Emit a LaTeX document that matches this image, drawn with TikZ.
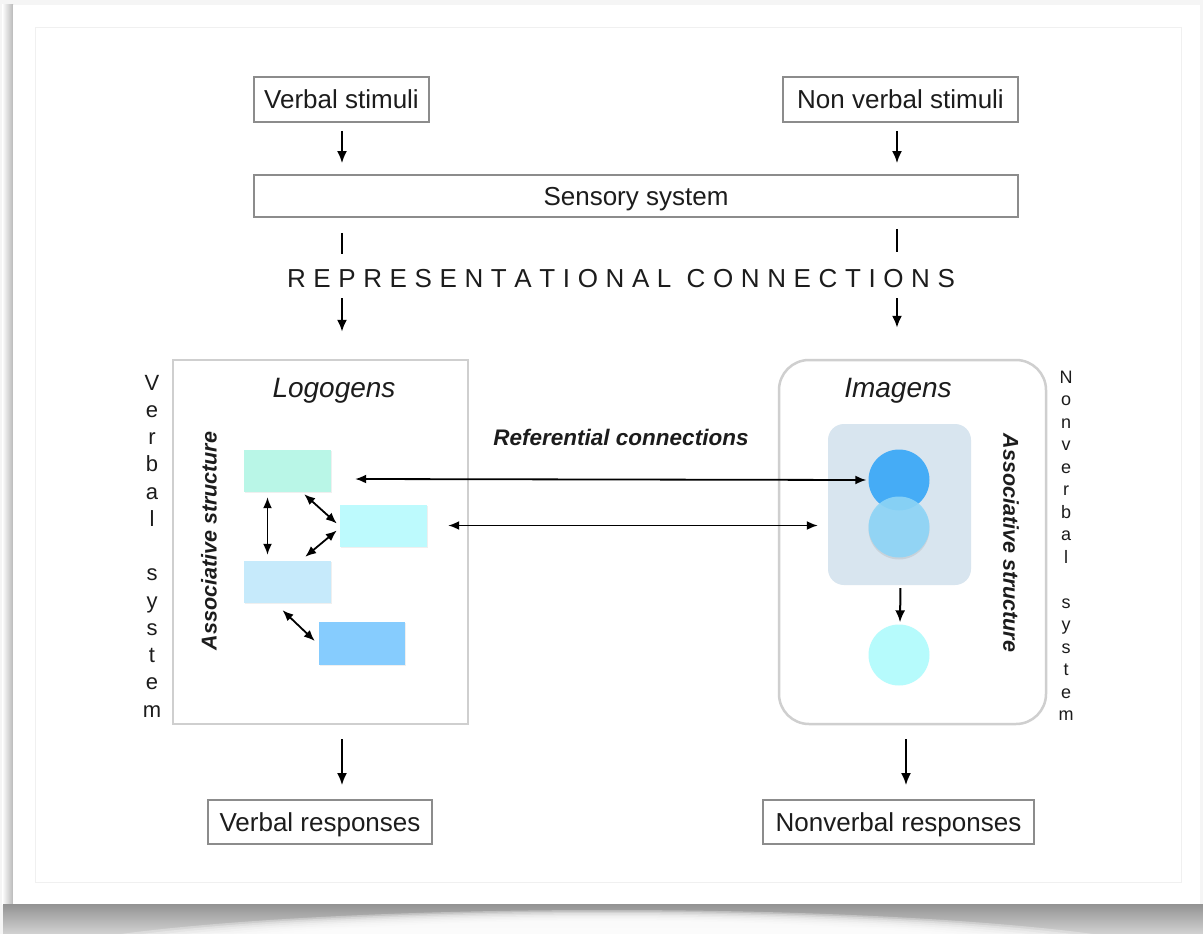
\documentclass[tikz,border=0pt]{standalone}
\usepackage{fontspec}
\setmainfont{Liberation Sans}
\usetikzlibrary{arrows.meta,shadows}

\definecolor{ink}{HTML}{1C1C1C}
\definecolor{boxline}{HTML}{8C8C8C}
\definecolor{panelline}{HTML}{CFCFCF}
\definecolor{mint}{HTML}{B9F6E7}
\definecolor{aqua}{HTML}{BDFAFD}
\definecolor{pale}{HTML}{C6EAFB}
\definecolor{sky}{HTML}{86CCFE}
\definecolor{haze}{HTML}{D8E5EF}
\definecolor{deep}{HTML}{45ACF6}
\definecolor{soft}{HTML}{8DD5F7}
\definecolor{ice}{HTML}{B6FBFC}

\newcommand\pxfont[2]{\fontsize{#1}{#2}\selectfont}

\begin{document}
\begin{tikzpicture}[x=1pt,y=-1pt,
  arr/.style={-{Latex[length=12pt,width=10pt]}, line width=2pt, black},
  dbl/.style={{Latex[length=11pt,width=9pt]}-{Latex[length=11pt,width=9pt]}, line width=1.8pt, black},
  link/.style={line width=2pt, black},
  labelbox/.style={draw=boxline, line width=1.8pt, fill=white, inner sep=0pt,
                   font=\pxfont{26}{30}, text=ink, text height=19pt, text depth=0pt},
  panel/.style={draw=panelline, line width=2.5pt, fill=white},
  title/.style={font=\pxfont{28}{32}\itshape, text=ink},
  assoc/.style={font=\pxfont{21.5}{24}\bfseries\itshape, text=ink},
  tile/.style={minimum width=87, minimum height=42, inner sep=0pt,
               drop shadow={opacity=0.12, shadow xshift=1pt, shadow yshift=-1pt}},
  ball/.style={circle, minimum size=61, inner sep=0pt}
]
\useasboundingbox (0,0) rectangle (1203,934);

% ---- page card with its shadow ----
\fill[gray!8] (0,0) rectangle (1203,934);
\shade[left color=white, right color=gray!55] (2,5) rectangle (13,904);
\fill[white] (13,5) rectangle (1200,904);
\draw[gray!12, line width=1pt] (35,28) rectangle (1181,882);
\begin{scope}
  \clip (3,904) rectangle (1203,934);
  \shade[top color=gray!85, bottom color=gray!35] (0,904) rectangle (1203,934);
  \foreach \k in {0,...,7}
    \fill[white, opacity=0.3] (607,968) ellipse ({600-18*\k} and {58-1.5*\k});
\end{scope}

% ---- stimuli and sensory system ----
\node[labelbox, minimum width=175, minimum height=45] (vs) at (341.5,99.5) {Verbal stimuli};
\node[labelbox, minimum width=235, minimum height=45] (nvs) at (900.5,99.5) {Non verbal stimuli};
\node[labelbox, minimum width=764, minimum height=42] (sens) at (636,196) {Sensory system};

\coordinate (lcol) at (342,0);
\coordinate (rcol) at (897,0);

\draw[arr, shorten <=8pt, shorten >=11pt] (vs.south -| lcol) -- (sens.north -| lcol);
\draw[arr, shorten <=8pt, shorten >=11pt] (nvs.south -| rcol) -- (sens.north -| rcol);

% ---- representational connections ----
\node[inner sep=0pt, text=ink, font=\pxfont{26}{30}, text height=19pt, text depth=0pt]
  (rep) at (621,277.5)
  {\makebox[668pt][s]{R\hfill E\hfill P\hfill R\hfill E\hfill S\hfill E\hfill N\hfill
   T\hfill A\hfill T\hfill I\hfill O\hfill N\hfill A\hfill L\hfill\hfill
   C\hfill O\hfill N\hfill N\hfill E\hfill C\hfill T\hfill I\hfill O\hfill N\hfill S}};

\draw[link, shorten <=15pt, shorten >=14pt] (sens.south -| lcol) -- (rep.north -| lcol);
\draw[link, shorten <=11pt, shorten >=16pt] (sens.south -| rcol) -- (rep.north -| rcol);

% ---- the two systems ----
\node[panel, minimum width=295, minimum height=364] (logo) at (320.5,542) {};
\node[panel, rounded corners=30pt, minimum width=267, minimum height=364] (imag) at (912.5,542) {};

\draw[arr, shorten <=11pt, shorten >=27pt] (rep.south -| lcol) -- (logo.north -| lcol);
\draw[arr, shorten <=11pt, shorten >=31pt] (rep.south -| rcol) -- (imag.north -| rcol);

\node[title] (logot) at (334,391) {Logogens};
\node[title] (imagt) at (898,391) {Imagens};

\node[align=center, text=ink, font=\pxfont{22}{27.25}] (vsys) at (152,546)
  {V\\e\\r\\b\\a\\l\\\mbox{}\\s\\y\\s\\t\\e\\m};
\node[align=center, text=ink, font=\pxfont{18}{22.5}] (nvsys) at (1066,546)
  {N\\o\\n\\v\\e\\r\\b\\a\\l\\\mbox{}\\s\\y\\s\\t\\e\\m};

\node[assoc, rotate=90] (assocl) at (209,541) {Associative structure};
\node[assoc, rotate=-90] (assocr) at (1011,543) {Associative structure};

% ---- logogen tiles ----
\node[tile, fill=mint] (r1) at (287.5,471) {};
\node[tile, fill=aqua] (r2) at (383.5,525.5) {};
\node[tile, fill=pale] (r3) at (287.5,582) {};
\node[tile, fill=sky, minimum width=86, minimum height=43] (r4) at (362,643) {};

\draw[dbl, shorten <=5pt, shorten >=6pt] ([xshift=-20pt]r1.south) -- ([xshift=-20pt]r3.north);
\draw[dbl] ([shift={(-27,2)}]r1.south east) -- ([shift={(-3,-2)}]r2.west);
\draw[dbl] ([shift={(-3,5)}]r2.west) -- ([shift={(-26,-4)}]r3.north east);
\draw[dbl] ([shift={(-5,7)}]r3.south) -- ([shift={(-4,-2)}]r4.west);

% ---- imagen cluster ----
\node[fill=haze, rounded corners=16pt, minimum width=143, minimum height=161, inner sep=0pt]
  (haze) at (899.5,504.5) {};
\node[ball, fill=deep] (c1) at (899,480) {};
\node[ball, fill=soft, fill opacity=0.9,
      drop shadow={opacity=0.18, shadow xshift=0pt, shadow yshift=-2pt}] (c2) at (899,527) {};
\node[ball, fill=ice] (c3) at (899,655) {};

\draw[arr, shorten <=3pt, shorten >=2pt] ([xshift=1pt]haze.south) -- ([xshift=1pt]c3.north);

% ---- referential connections ----
\node[assoc, font=\pxfont{22.5}{26}\bfseries\itshape] (reft) at (621,437) {Referential connections};
\draw[dbl] ([shift={(24,8)}]r1.east) -- ([xshift=-2pt]c1.west);
\draw[dbl] ([xshift=21pt]r2.east) -- ([xshift=-10pt]haze.west |- r2.east);

% ---- responses ----
\node[labelbox, minimum width=224, minimum height=44] (vr) at (320,822) {Verbal responses};
\node[labelbox, minimum width=271, minimum height=44] (nvr) at (898.5,822) {Nonverbal responses};

\coordinate (rout) at (906,0);
\draw[arr, shorten <=14pt, shorten >=14pt] (logo.south -| lcol) -- (vr.north -| lcol);
\draw[arr, shorten <=14pt, shorten >=14pt] (imag.south -| rout) -- (nvr.north -| rout);

\end{tikzpicture}
\end{document}
